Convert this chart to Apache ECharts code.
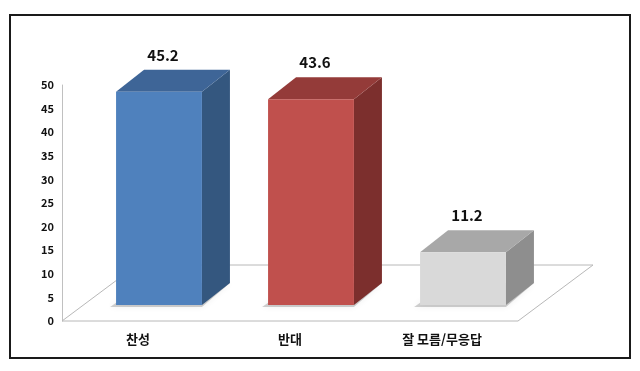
<!DOCTYPE html>
<html>
<head>
<meta charset="utf-8">
<script src="https://cdn.jsdelivr.net/npm/echarts@6/dist/echarts.min.js"></script>
<style>
html,body{margin:0;padding:0;background:#fff;}
#chart{width:640px;height:371px;}
</style>
</head>
<body>
<div id="chart"></div>
<script>
const categories = ['찬성', '반대', '잘 모름/무응답'];
const values = [45.2, 43.6, 11.2];
const yTicks = [0, 5, 10, 15, 20, 25, 30, 35, 40, 45, 50];

const faceColors = [
  {front: '#4f81bd', side: '#34577f', top: '#3e6597'},
  {front: '#c0504d', side: '#7c2f2d', top: '#943b39'},
  {front: '#d9d9d9', side: '#8e8e8e', top: '#a8a8a8'}
];

const FONT = '"Noto Sans CJK KR", "Noto Sans", sans-serif';
const chart = echarts.init(document.getElementById('chart'), null, {renderer: 'canvas'});

// floor depth offset (back edge relative to front)
const FLOOR_DX = 75, FLOOR_DY = -56;
// bar placement within floor depth
const BAR_SX = 21, BAR_SY = -16, BAR_DX = 28, BAR_DY = -22;

function floorItem(params, api) {
  const cs = params.coordSys;
  const xl = cs.x, xr = cs.x + cs.width, yf = api.coord([0, 0])[1];
  return {
    type: 'polygon',
    shape: {points: [[xl, yf], [xr, yf], [xr + FLOOR_DX, yf + FLOOR_DY], [xl + FLOOR_DX, yf + FLOOR_DY]]},
    style: {fill: '#ffffff', stroke: '#b8b8b8', lineWidth: 1}
  };
}

function barItem(params, api) {
  const i = api.value(0), v = api.value(1);
  const base = api.coord([i, 0]);
  const top = api.coord([i, v]);
  const band = api.size([1, 0])[0];
  const w = band * 0.565;
  const x0 = base[0] + BAR_SX - w / 2, x1 = x0 + w;
  const yb = base[1] + BAR_SY, yt = top[1] + BAR_SY;
  const c = faceColors[i];
  return {
    type: 'group',
    children: [
      {
        type: 'polygon',
        shape: {points: [[x0 - 6, yb + 2], [x1, yb + 2], [x1 + BAR_DX, yb + BAR_DY], [x0 + BAR_DX, yb + BAR_DY]]},
        style: {fill: 'rgba(0,0,0,0.18)', shadowBlur: 6, shadowColor: 'rgba(0,0,0,0.35)'}
      },
      {
        type: 'polygon',
        shape: {points: [[x1, yt], [x1 + BAR_DX, yt + BAR_DY], [x1 + BAR_DX, yb + BAR_DY], [x1, yb]]},
        style: {fill: c.side}
      },
      {
        type: 'polygon',
        shape: {points: [[x0, yt], [x0 + BAR_DX, yt + BAR_DY], [x1 + BAR_DX, yt + BAR_DY], [x1, yt]]},
        style: {fill: c.top}
      },
      {
        type: 'rect',
        shape: {x: x0, y: yt, width: w, height: yb - yt},
        style: {fill: c.front}
      },
      {
        type: 'text',
        style: {
          x: x0 + w / 2 + 4, y: yt + BAR_DY - 7,
          text: String(v), align: 'center', verticalAlign: 'bottom',
          fill: '#111', font: 'bold 15px ' + FONT
        }
      }
    ]
  };
}

chart.setOption({
  backgroundColor: '#ffffff',
  animation: false,
  grid: {left: 62, right: 122, top: 85, bottom: 50, containLabel: false},
  xAxis: {
    type: 'category',
    data: categories,
    axisLine: {show: false},
    axisTick: {show: false},
    axisLabel: {color: '#111', fontSize: 13, fontWeight: 'bold', fontFamily: FONT, margin: 12}
  },
  yAxis: {
    type: 'value',
    min: yTicks[0],
    max: yTicks[yTicks.length - 1],
    interval: yTicks[1] - yTicks[0],
    splitLine: {show: false},
    axisTick: {show: false},
    axisLine: {show: true, lineStyle: {color: '#c0c0c0', width: 1}},
    axisLabel: {color: '#111', fontSize: 11, fontWeight: 'bold', fontFamily: FONT, margin: 8}
  },
  graphic: [{
    type: 'rect',
    shape: {x: 10, y: 15, width: 620, height: 343},
    style: {fill: 'none', stroke: '#1a1a1a', lineWidth: 2},
    z: 100
  }],
  series: [
    {
      type: 'custom',
      renderItem: floorItem,
      data: [[0, 0]],
      z: 1,
      silent: true
    },
    {
      type: 'custom',
      renderItem: barItem,
      data: values.map((v, i) => [i, v]),
      encode: {x: 0, y: 1},
      z: 2
    }
  ]
});
</script>
</body>
</html>
